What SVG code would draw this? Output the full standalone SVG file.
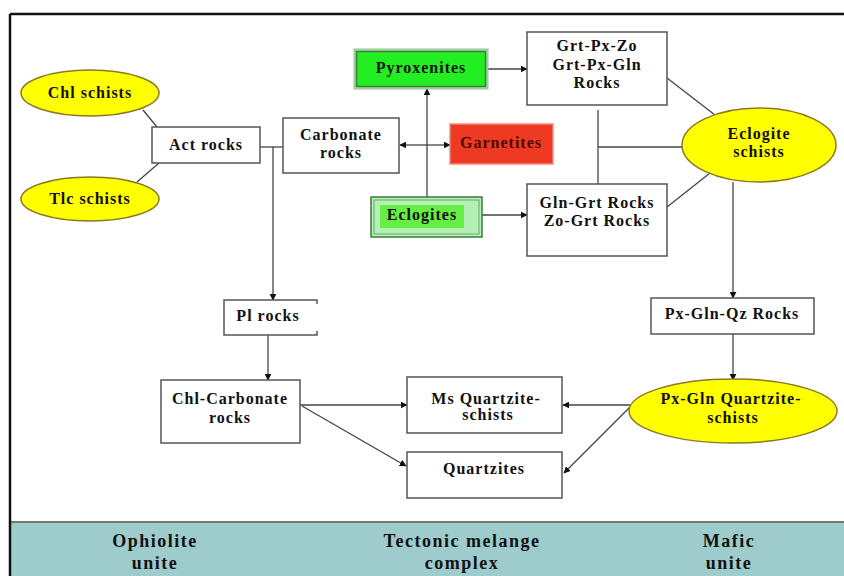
<svg xmlns="http://www.w3.org/2000/svg" width="844" height="576" viewBox="0 0 844 576">
<defs>
<style>
text{font-family:"Liberation Serif","Times New Roman",serif;font-weight:bold;font-size:16px;letter-spacing:1px;fill:#111;text-anchor:middle}
.band text{font-size:18px;letter-spacing:1.5px}
.box{fill:#fff;stroke:#555;stroke-width:1.5}
.ell{fill:#ffff00;stroke:#8a7a22;stroke-width:1.5}
.ln{fill:none;stroke:#444;stroke-width:1.3}
.ar{fill:none;stroke:#444;stroke-width:1.3;marker-end:url(#ah)}
</style>
<marker id="ah" viewBox="0 0 10 10" refX="9" refY="5" markerWidth="7" markerHeight="7" markerUnits="userSpaceOnUse" orient="auto">
<path d="M0,0 L10,5 L0,10 z" fill="#111"/>
</marker>
</defs>
<rect x="0" y="0" width="844" height="576" fill="#fff"/>
<g id="band" class="band">
<rect x="10" y="522" width="834" height="54" fill="#9ecbcb"/>
<line x1="10" y1="522" x2="844" y2="522" stroke="#777" stroke-width="2"/>
<text x="155" y="547">Ophiolite</text>
<text x="155" y="569">unite</text>
<text x="462" y="547">Tectonic melange</text>
<text x="462" y="569">complex</text>
<text x="729" y="547">Mafic</text>
<text x="729" y="569">unite</text>
</g>
<g id="frame">
<line x1="10" y1="14" x2="844" y2="14" stroke="#111" stroke-width="2.5"/>
<line x1="10" y1="14" x2="10" y2="576" stroke="#111" stroke-width="2.5"/>
</g>
<g id="connectors">
<line class="ln" x1="143" y1="110" x2="157" y2="127"/>
<line class="ln" x1="137" y1="182" x2="159" y2="163"/>
<line class="ln" x1="260" y1="147" x2="283" y2="147"/>
<line class="ar" x1="273" y1="147" x2="273" y2="300"/>
<line class="ar" x1="268" y1="335" x2="268" y2="380"/>
<line class="ar" x1="427" y1="197" x2="427" y2="89"/>
<line class="ar" x1="427" y1="145" x2="400" y2="145"/>
<line class="ar" x1="427" y1="145" x2="450" y2="145"/>
<line class="ar" x1="488" y1="69" x2="527" y2="69"/>
<line class="ar" x1="482" y1="215" x2="527" y2="215"/>
<line class="ln" x1="598" y1="110" x2="598" y2="184"/>
<line class="ln" x1="598" y1="147" x2="682" y2="147"/>
<line class="ln" x1="667" y1="78" x2="715" y2="115"/>
<line class="ln" x1="667" y1="207" x2="710" y2="173"/>
<line class="ar" x1="733" y1="182" x2="733" y2="298"/>
<line class="ar" x1="733" y1="334" x2="733" y2="380"/>
<line class="ar" x1="630" y1="405" x2="563" y2="405"/>
<line class="ar" x1="630" y1="407" x2="564" y2="473"/>
<line class="ar" x1="300" y1="405" x2="407" y2="405"/>
<line class="ar" x1="302" y1="406" x2="406" y2="466"/>
</g>
<g id="chl-schists">
<ellipse class="ell" cx="90" cy="93" rx="69" ry="23"/>
<text x="90" y="98">Chl schists</text>
</g>
<g id="tlc-schists">
<ellipse class="ell" cx="90" cy="199" rx="69" ry="22"/>
<text x="90" y="204">Tlc schists</text>
</g>
<g id="act-rocks">
<rect class="box" x="152" y="127" width="108" height="36"/>
<text x="206" y="150">Act rocks</text>
</g>
<g id="carbonate-rocks">
<rect class="box" x="283" y="118" width="116" height="55"/>
<text x="341" y="140">Carbonate</text>
<text x="341" y="158">rocks</text>
</g>
<g id="pyroxenites">
<rect x="354" y="49" width="134" height="40" fill="#a8dca8" stroke="#8fc48f" stroke-width="1"/>
<rect x="356.5" y="51.5" width="129" height="35" fill="#22ee22" stroke="#3d7a3d" stroke-width="1.5"/>
<text x="421" y="73" fill="#0a3a0a">Pyroxenites</text>
</g>
<g id="garnetites">
<rect x="450" y="124" width="103" height="40" fill="#ee3a22" stroke="#f08a7a" stroke-width="1.5"/>
<text x="501" y="148" style="fill:#4a0a05">Garnetites</text>
</g>
<g id="eclogites">
<rect x="371" y="197" width="111" height="40" fill="#b4f0b4" stroke="#3d7a3d" stroke-width="1.5"/>
<rect x="374" y="200" width="105" height="34" fill="none" stroke="#6aa86a" stroke-width="1"/>
<rect x="380" y="205" width="84" height="23" fill="#66ee44"/>
<text x="422" y="220">Eclogites</text>
</g>
<g id="grt-px-zo">
<rect class="box" x="527" y="32" width="140" height="73"/>
<text x="597" y="51">Grt-Px-Zo</text>
<text x="597" y="70">Grt-Px-Gln</text>
<text x="597" y="88">Rocks</text>
</g>
<g id="gln-grt">
<rect class="box" x="527" y="184" width="140" height="72"/>
<text x="597" y="208">Gln-Grt Rocks</text>
<text x="597" y="226">Zo-Grt Rocks</text>
</g>
<g id="eclogite-schists">
<ellipse class="ell" cx="759" cy="145" rx="77" ry="37"/>
<text x="759" y="139">Eclogite</text>
<text x="759" y="157">schists</text>
</g>
<g id="pl-rocks">
<path class="box" d="M317,304 L317,300 L224,300 L224,335 L317,335 L317,331"/>
<text x="268" y="321">Pl rocks</text>
</g>
<g id="px-gln-qz">
<rect class="box" x="651" y="298" width="163" height="36"/>
<text x="732" y="319">Px-Gln-Qz Rocks</text>
</g>
<g id="px-gln-quartzite-schists">
<ellipse class="ell" cx="733" cy="411" rx="104" ry="32"/>
<text x="731" y="404">Px-Gln Quartzite-</text>
<text x="733" y="423">schists</text>
</g>
<g id="chl-carbonate">
<rect class="box" x="161" y="380" width="139" height="63"/>
<text x="230" y="404">Chl-Carbonate</text>
<text x="230" y="423">rocks</text>
</g>
<g id="ms-quartzite-schists">
<rect class="box" x="407" y="377" width="155" height="56"/>
<text x="486" y="404">Ms Quartzite-</text>
<text x="488" y="420">schists</text>
</g>
<g id="quartzites">
<rect class="box" x="407" y="452" width="155" height="46"/>
<text x="484" y="474">Quartzites</text>
</g>
</svg>
